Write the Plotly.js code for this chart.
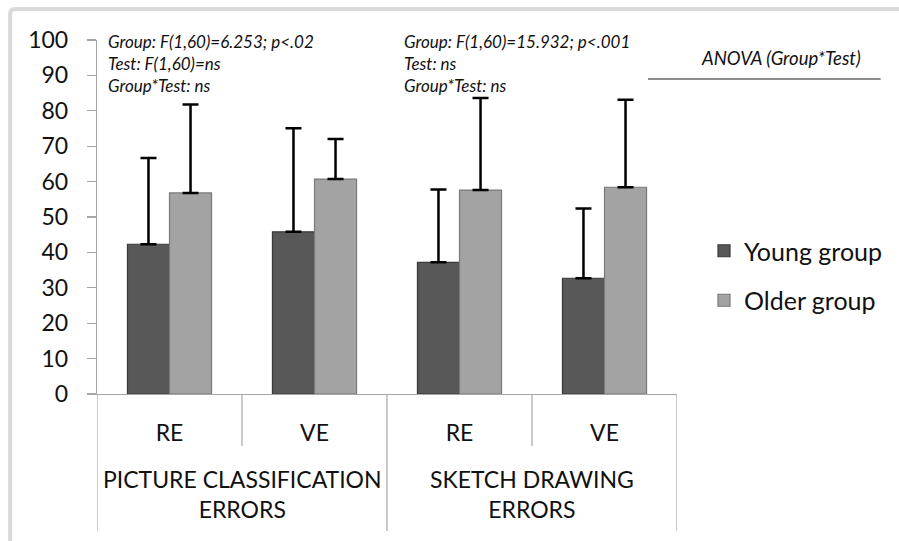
<!DOCTYPE html>
<html>
<head>
<meta charset="utf-8">
<script src="https://cdn.plot.ly/plotly-3.0.1.min.js"></script>
<style>html,body{margin:0;padding:0;background:#fff;}#chart{width:899px;height:541px;}</style>
</head>
<body>
<div id="chart"></div>
<script>
// ---- data ----
var tests = ['RE', 'VE', 'RE', 'VE'];
var groups = ['PICTURE CLASSIFICATION<br>ERRORS', 'SKETCH DRAWING<br>ERRORS'];
var youngMean = [42.3, 45.8, 37.2, 32.7];
var youngSD = [24.4, 29.3, 20.6, 19.7];
var olderMean = [56.8, 60.7, 57.6, 58.4];
var olderSD = [25.0, 11.3, 26.0, 24.7];
var seriesNames = ['Young group', 'Older group'];
var statsPC = 'Group: F(1,60)=6.253; p<.02<br>Test: F(1,60)=ns<br>Group*Test: ns';
var statsSD = 'Group: F(1,60)=15.932; p<.001<br>Test: ns<br>Group*Test: ns';
var anovaLabel = 'ANOVA (Group*Test)';
var yTicks = [0, 10, 20, 30, 40, 50, 60, 70, 80, 90, 100];

var xIdx = tests.map(function (t, i) { return i; });
var zeros = xIdx.map(function () { return 0; });

var FONT = 'Lato, "Open Sans", sans-serif';

var traces = [
  {
    type: 'bar', name: seriesNames[0], x: xIdx, y: youngMean,
    legendgroup: 'a',
    marker: { color: '#585858', line: { color: '#3a3a3a', width: 1.2 } },
    error_y: { type: 'data', symmetric: false, array: youngSD, arrayminus: zeros, color: '#000', thickness: 2.5, width: 8 }
  },
  {
    type: 'bar', name: seriesNames[1], x: xIdx, y: olderMean,
    legendgroup: 'b',
    marker: { color: '#a3a3a3', line: { color: '#7a7a7a', width: 1.2 } },
    error_y: { type: 'data', symmetric: false, array: olderSD, arrayminus: zeros, color: '#000', thickness: 2.5, width: 8 }
  }
];

// paper helpers: plot area px x 97..678, y 40..394
function px2x(p) { return (p - 97) / 581; }
function px2y(p) { return (394 - p) / 354; }

var shapes = [];
[0.5, 2.5].forEach(function (b) {
  shapes.push({ type: 'line', xref: 'x', yref: 'paper', x0: b, x1: b, y0: 0, y1: px2y(446), line: { color: '#a6a6a6', width: 1.2 } });
});
[-0.5, 1.5, 3.5].forEach(function (b) {
  shapes.push({ type: 'line', xref: 'x', yref: 'paper', x0: b, x1: b, y0: 0, y1: px2y(531), line: { color: '#a6a6a6', width: 1.2 } });
});
shapes.push({ type: 'line', xref: 'paper', yref: 'paper', x0: px2x(649), x1: px2x(882), y0: px2y(79), y1: px2y(79), line: { color: '#8c8c8c', width: 2 } });
shapes.push({ type: 'path', xref: 'paper', yref: 'paper',
  path: 'M ' + px2x(10) + ' ' + px2y(545) + ' L ' + px2x(10) + ' ' + px2y(14) + ' Q ' + px2x(10) + ' ' + px2y(9) + ' ' + px2x(15) + ' ' + px2y(9) + ' L ' + px2x(905) + ' ' + px2y(9),
  line: { color: '#d9d9d9', width: 4 } });

var annotations = [
  { xref: 'paper', yref: 'paper', x: px2x(106), y: px2y(29), xanchor: 'left', yanchor: 'top', align: 'left', showarrow: false,
    text: statsPC, font: { family: FONT, size: 17, color: '#111', style: 'italic' } },
  { xref: 'paper', yref: 'paper', x: px2x(403), y: px2y(29), xanchor: 'left', yanchor: 'top', align: 'left', showarrow: false,
    text: statsSD, font: { family: FONT, size: 17, color: '#111', style: 'italic' } },
  { xref: 'paper', yref: 'paper', x: px2x(782), y: px2y(58), xanchor: 'center', yanchor: 'middle', showarrow: false,
    text: anovaLabel, font: { family: FONT, size: 18.5, color: '#111', style: 'italic' } }
];
groups.forEach(function (g, i) {
  annotations.push({ xref: 'x', yref: 'paper', x: 2 * i + 0.5, y: px2y(463), xanchor: 'center', yanchor: 'top', showarrow: false,
    text: g, font: { family: FONT, size: 23, color: '#111', lineposition: 'none' } });
});

var layout = {
  width: 899, height: 541,
  margin: { l: 97, r: 221, t: 40, b: 147 },
  paper_bgcolor: '#fff', plot_bgcolor: '#fff',
  barmode: 'group', bargap: 0.42, bargroupgap: 0,
  showlegend: true,
  legend: { x: px2x(704), y: px2y(228), xanchor: 'left', yanchor: 'top', traceorder: 'grouped', tracegroupgap: 14,
    font: { family: FONT, size: 25, color: '#111' }, bgcolor: 'rgba(0,0,0,0)' },
  xaxis: {
    range: [-0.5, 3.5], tickmode: 'array', tickvals: xIdx, ticktext: tests,
    showgrid: false, zeroline: false, showline: true, linecolor: '#a6a6a6', linewidth: 1.2,
    ticks: '', ticklabelstandoff: 18, fixedrange: true,
    tickfont: { family: FONT, size: 23, color: '#111' }
  },
  yaxis: {
    range: [0, 100], tickmode: 'array', tickvals: yTicks,
    showgrid: false, zeroline: false, showline: true, linecolor: '#a6a6a6', linewidth: 1.2,
    ticks: 'outside', ticklen: 9, tickcolor: '#a6a6a6', tickwidth: 1.2, ticklabelstandoff: 14,
    tickfont: { family: FONT, size: 23, color: '#111' }
  },
  shapes: shapes,
  annotations: annotations
};

Plotly.newPlot('chart', traces, layout, { displayModeBar: false, staticPlot: true });
</script>
</body>
</html>
